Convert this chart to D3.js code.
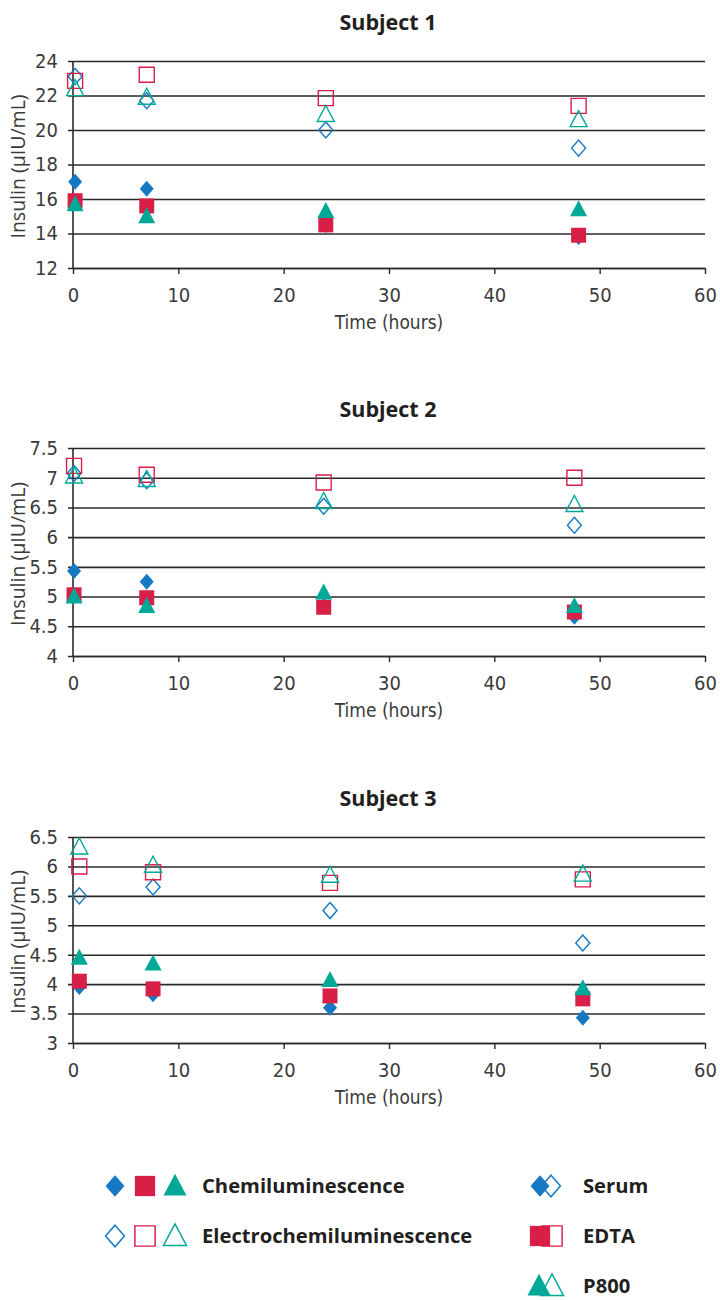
<!DOCTYPE html>
<html>
<head>
<meta charset="utf-8">
<script src="https://cdn.jsdelivr.net/npm/d3@7"></script>
<style>
  body { margin: 0; background: #fff; }
  svg text { fill: #333; }
</style>
</head>
<body>
<svg id="chart" width="720" height="1300"></svg>
<script>
(function () {
    "use strict";

    // sampling times (hours) as plotted for each subject
    var times1 = [0.2, 7, 24, 48];
    var times2 = [0.1, 7, 23.8, 47.6];
    var times3 = [0.6, 7.6, 24.4, 48.4];

    // Subject 1 values (µIU/mL)
    var chemSerum1 = [17.0, 16.6, 14.5, 13.8];
    var chemEdta1 = [15.9, 15.6, 14.5, 13.9];
    var chemP8001 = [15.7, 15.0, 15.3, 15.4];
    var ecSerum1 = [23.1, 21.7, 20.0, 18.95];
    var ecEdta1 = [22.85, 23.2, 21.85, 21.4];
    var ecP8001 = [22.4, 21.9, 20.9, 20.6];

    // Subject 2
    var chemSerum2 = [5.43, 5.25, 4.85, 4.66];
    var chemEdta2 = [5.03, 4.98, 4.82, 4.74];
    var chemP8002 = [5.0, 4.84, 5.07, 4.84];
    var ecSerum2 = [7.07, 6.95, 6.52, 6.2];
    var ecEdta2 = [7.2, 7.05, 6.92, 7.0];
    var ecP8002 = [7.03, 6.97, 6.6, 6.55];

    // Subject 3
    var chemSerum3 = [3.95, 3.83, 3.6, 3.43];
    var chemEdta3 = [4.05, 3.92, 3.8, 3.75];
    var chemP8003 = [4.45, 4.35, 4.07, 3.93];
    var ecSerum3 = [5.5, 5.65, 5.25, 4.7];
    var ecEdta3 = [6.0, 5.9, 5.72, 5.78];
    var ecP8003 = [6.33, 6.02, 5.85, 5.87];

    // tick labels
    var xTicks = [0, 10, 20, 30, 40, 50, 60];
    var yTicks1 = [12, 14, 16, 18, 20, 22, 24];
    var yTicks2 = [4, 4.5, 5, 5.5, 6, 6.5, 7, 7.5];
    var yTicks3 = [3, 3.5, 4, 4.5, 5, 5.5, 6, 6.5];

    var titles = ["Subject 1", "Subject 2", "Subject 3"];

    var BLUE = "#1478c3", RED = "#d81f48", TEAL = "#00a898";
    var tickFont = "'DejaVu Sans Condensed', 'Liberation Sans Narrow', 'Liberation Sans', sans-serif";
    var boldFont = "'Open Sans', 'Noto Sans', sans-serif";

    var svg = d3.select("#chart");

    // marker shapes, centred at 0,0
    function shape(kind) {
        if (kind === "diamond") return "M0,-8L7,0L0,8L-7,0Z";
        if (kind === "square") return "M-7.5,-7.5H7.5V7.5H-7.5Z";
        return "M0,-9L8.5,7H-8.5Z";
    }

    function drawChart(cfg) {
        var left = 73, right = 705;
        var x = d3.scaleLinear().domain([0, 60]).range([left, right]);
        var y = d3.scaleLinear().domain(cfg.yDomain).range([cfg.bottom, cfg.top]);
        var g = svg.append("g");

        // title
        g.append("text")
            .attr("x", (left + right) / 2 - 1)
            .attr("y", cfg.top - 31)
            .attr("text-anchor", "middle")
            .style("font-family", boldFont)
            .style("font-weight", "bold")
            .style("font-size", "21.5px")
            .style("fill", "#231f20")
            .text(cfg.title);

        // horizontal grid + y labels
        var yAxis = g.append("g")
            .attr("transform", "translate(" + left + ",0)")
            .call(d3.axisLeft(y).tickValues(cfg.yTicks)
                .tickSizeInner(-(right - left)).tickSizeOuter(0).tickPadding(15)
                .tickFormat(d3.format("")));
        yAxis.select(".domain").remove();
        yAxis.selectAll(".tick line")
            .attr("x1", -5)
            .attr("stroke", "#2a2a2a")
            .attr("stroke-width", 1.6);
        yAxis.selectAll(".tick text")
            .style("font-family", tickFont)
            .style("font-size", "20px")
            .style("fill", "#3a3a3a");

        // left axis line
        g.append("line")
            .attr("x1", left).attr("x2", left)
            .attr("y1", cfg.top).attr("y2", cfg.bottom)
            .attr("stroke", "#2a2a2a").attr("stroke-width", 1.6);

        // x axis
        var xAxis = g.append("g")
            .attr("transform", "translate(0," + cfg.bottom + ")")
            .call(d3.axisBottom(x).tickValues(xTicks).tickSizeInner(6).tickSizeOuter(0).tickPadding(14));
        xAxis.select(".domain").attr("stroke", "#2a2a2a").attr("stroke-width", 1.6);
        xAxis.selectAll(".tick line").attr("stroke", "#2a2a2a").attr("stroke-width", 1.4);
        xAxis.selectAll(".tick text")
            .style("font-family", tickFont)
            .style("font-size", "20px")
            .style("fill", "#3a3a3a");

        // axis titles
        g.append("text")
            .attr("x", (left + right) / 2)
            .attr("y", cfg.bottom + 61)
            .attr("text-anchor", "middle")
            .style("font-family", tickFont)
            .style("font-size", "19px")
            .style("fill", "#3a3a3a")
            .text("Time (hours)");

        g.append("text")
            .attr("transform", "translate(25," + ((cfg.top + cfg.bottom) / 2 + 2) + ") rotate(-90)")
            .attr("text-anchor", "middle")
            .style("font-family", "'Open Sans', sans-serif")
            .style("font-size", "19.5px")
            .style("fill", "#3a3a3a")
            .text("Insulin (µIU/mL)");

        // series: chemiluminescence filled, electrochemiluminescence open
        var series = [
            { vals: cfg.chemSerum, kind: "diamond", color: BLUE, filled: true },
            { vals: cfg.chemEdta, kind: "square", color: RED, filled: true },
            { vals: cfg.chemP800, kind: "triangle", color: TEAL, filled: true },
            { vals: cfg.ecSerum, kind: "diamond", color: BLUE, filled: false },
            { vals: cfg.ecEdta, kind: "square", color: RED, filled: false },
            { vals: cfg.ecP800, kind: "triangle", color: TEAL, filled: false }
        ];

        series.forEach(function (s) {
            g.append("g").selectAll("path")
                .data(s.vals)
                .enter()
                .append("path")
                .attr("d", shape(s.kind))
                .attr("transform", function (d, i) {
                    return "translate(" + x(cfg.times[i]) + "," + y(d) + ")";
                })
                .attr("fill", s.filled ? s.color : "none")
                .attr("stroke", s.color)
                .attr("stroke-width", s.filled ? 0 : 1.4);
        });
    }

    drawChart({ title: titles[0], top: 61, bottom: 268, yDomain: [12, 24], yTicks: yTicks1, times: times1,
        chemSerum: chemSerum1, chemEdta: chemEdta1, chemP800: chemP8001,
        ecSerum: ecSerum1, ecEdta: ecEdta1, ecP800: ecP8001 });
    drawChart({ title: titles[1], top: 448, bottom: 656, yDomain: [4, 7.5], yTicks: yTicks2, times: times2,
        chemSerum: chemSerum2, chemEdta: chemEdta2, chemP800: chemP8002,
        ecSerum: ecSerum2, ecEdta: ecEdta2, ecP800: ecP8002 });
    drawChart({ title: titles[2], top: 837, bottom: 1043, yDomain: [3, 6.5], yTicks: yTicks3, times: times3,
        chemSerum: chemSerum3, chemEdta: chemEdta3, chemP800: chemP8003,
        ecSerum: ecSerum3, ecEdta: ecEdta3, ecP800: ecP8003 });

    // legend
    var leg = svg.append("g");
    function legMark(kind, color, filled, cx, cy, scale) {
        leg.append("path")
            .attr("d", shape(kind))
            .attr("transform", "translate(" + cx + "," + cy + ") scale(" + (scale || 1.35) + ")")
            .attr("fill", filled ? color : "#fff")
            .attr("stroke", color)
            .attr("stroke-width", filled ? 0 : 1.1);
    }
    function legText(str, tx, ty) {
        leg.append("text")
            .attr("x", tx).attr("y", ty)
            .attr("dy", "0.35em")
            .style("font-family", boldFont)
            .style("font-weight", "bold")
            .style("font-size", "20.2px")
            .style("fill", "#231f20")
            .text(str);
    }

    legMark("diamond", BLUE, true, 115, 1186);
    legMark("square", RED, true, 145, 1186);
    legMark("triangle", TEAL, true, 175, 1186);
    legText("Chemiluminescence", 202, 1186);

    legMark("diamond", BLUE, false, 115, 1236);
    legMark("square", RED, false, 145, 1236);
    legMark("triangle", TEAL, false, 175, 1236);
    legText("Electrochemiluminescence", 202, 1236);

    legMark("diamond", BLUE, false, 551, 1186);
    legMark("diamond", BLUE, true, 540, 1186);
    legText("Serum", 583, 1186);

    legMark("square", RED, false, 552, 1236);
    legMark("square", RED, true, 540, 1236);
    legText("EDTA", 583, 1236);

    legMark("triangle", TEAL, false, 552, 1286);
    legMark("triangle", TEAL, true, 539, 1286);
    legText("P800", 583, 1286);
})();
</script>
</body>
</html>
